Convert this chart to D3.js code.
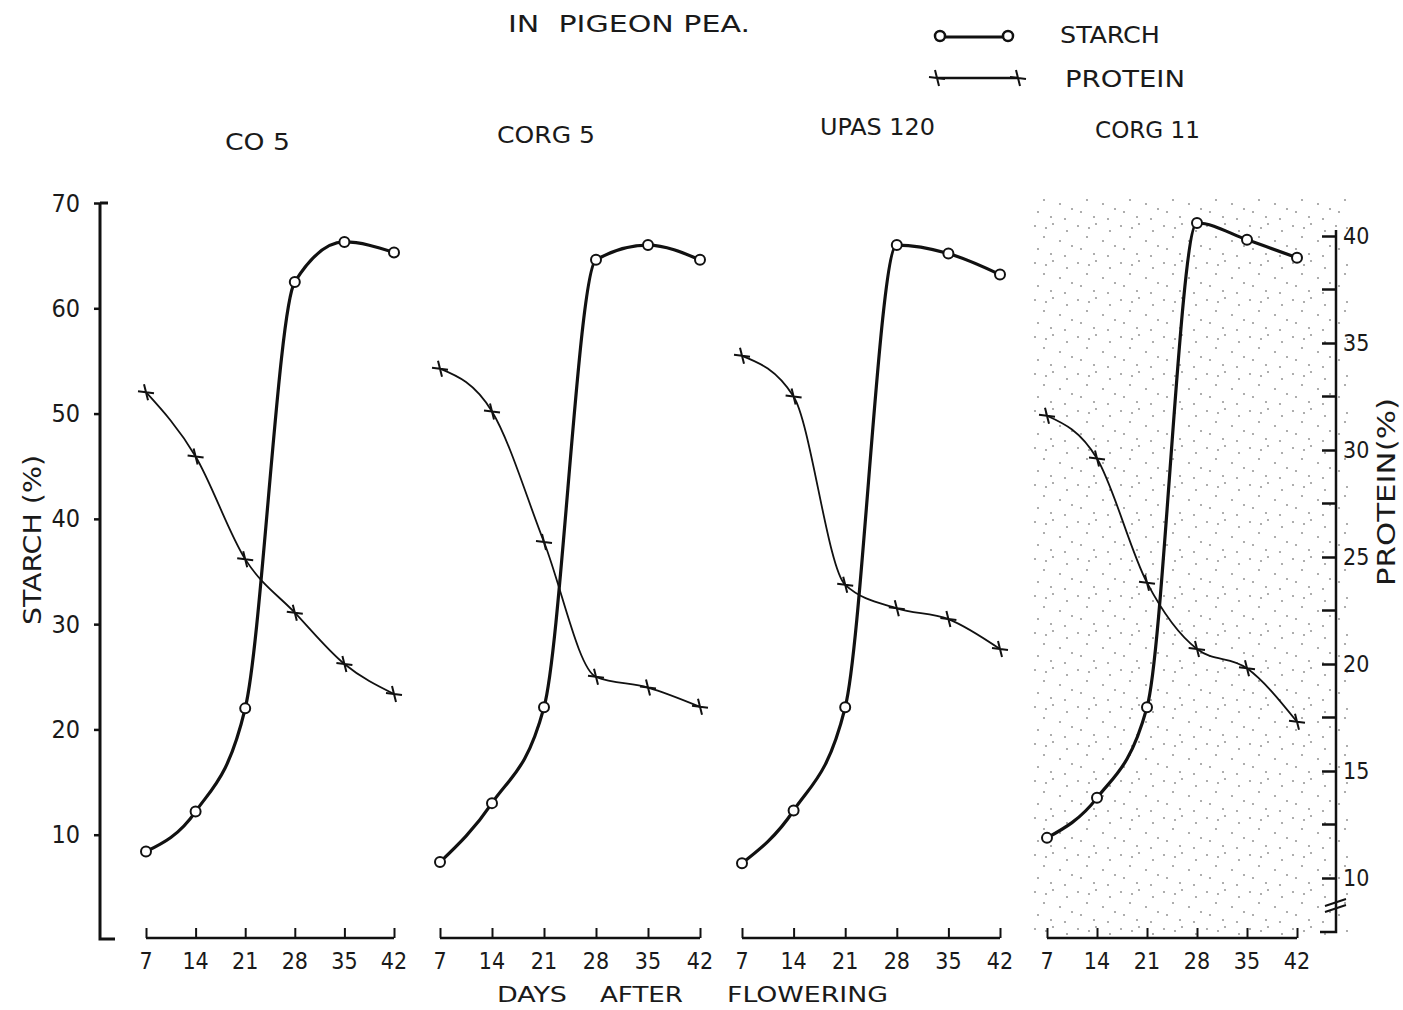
<!DOCTYPE html>
<html>
<head>
<meta charset="utf-8">
<script src="https://cdn.jsdelivr.net/npm/d3@7"></script>
<style>
  html, body { margin: 0; padding: 0; background: #fff; }
  svg text { font-family: "DejaVu Sans", sans-serif; font-stretch: condensed; fill: #1a1a1a; white-space: pre; }
</style>
</head>
<body>
<div id="chart"></div>
<script>
// data
const days = [7, 14, 21, 28, 35, 42];
const varieties = ["CO 5", "CORG 5", "UPAS 120", "CORG 11"];

const starchCO5 = [8.4, 12.2, 22.0, 62.5, 66.3, 65.3];
const starchCORG5 = [7.4, 13.0, 22.1, 64.6, 66.0, 64.6];
const starchUPAS120 = [7.3, 12.3, 22.1, 66.0, 65.2, 63.2];
const starchCORG11 = [9.7, 13.5, 22.1, 68.1, 66.5, 64.8];

const proteinCO5 = [32.7, 29.7, 24.9, 22.4, 20.0, 18.6];
const proteinCORG5 = [33.8, 31.8, 25.7, 19.4, 18.9, 18.0];
const proteinUPAS120 = [34.4, 32.5, 23.7, 22.6, 22.1, 20.7];
const proteinCORG11 = [31.6, 29.6, 23.8, 20.7, 19.8, 17.3];

const starchTicks = [10, 20, 30, 40, 50, 60, 70];
const proteinTicks = [10, 15, 20, 25, 30, 35, 40];
const proteinMinorTicks = [12.5, 17.5, 22.5, 27.5, 32.5, 37.5];

const starchSeries = [starchCO5, starchCORG5, starchUPAS120, starchCORG11];
const proteinSeries = [proteinCO5, proteinCORG5, proteinUPAS120, proteinCORG11];

// layout
const width = 1403, height = 1010;
const panelRanges = [[146, 394], [440, 700], [742, 1000], [1047, 1297]];
const titlePos = [[225, 150, 65], [497, 143, 98], [820, 135, 115], [1095, 138, 105]];
const baseY = 938;

const svg = d3.select("#chart")
  .append("svg")
  .attr("width", width)
  .attr("height", height);

// stipple in the last panel
const defs = svg.append("defs");
const pat = defs.append("pattern")
  .attr("id", "stipple")
  .attr("patternUnits", "userSpaceOnUse")
  .attr("width", 43)
  .attr("height", 37);
[[3, 4], [21, 2], [35, 9], [12, 15], [28, 19], [6, 27], [40, 24], [19, 32], [33, 34], [14, 6]].forEach(p => {
  pat.append("circle").attr("cx", p[0]).attr("cy", p[1]).attr("r", 1.1).attr("fill", "#9a9a9a");
});
svg.append("rect")
  .attr("x", 1030).attr("y", 195)
  .attr("width", 318).attr("height", 742)
  .attr("fill", "url(#stipple)");

// scales
const yStarch = d3.scaleLinear().domain([0, 70]).range([940, 203]);
const yProtein = d3.scaleLinear().domain([10, 40]).range([878, 236]);

// left axis (starch)
svg.append("path")
  .attr("d", `M100,${yStarch(70)} L100,${baseY + 1} L115,${baseY + 1}`)
  .attr("fill", "none").attr("stroke", "#111").attr("stroke-width", 3);
svg.append("line")
  .attr("x1", 100).attr("x2", 108)
  .attr("y1", yStarch(70)).attr("y2", yStarch(70))
  .attr("stroke", "#111").attr("stroke-width", 3);

const leftAxis = svg.append("g")
  .attr("transform", "translate(100,0)")
  .call(d3.axisLeft(yStarch).tickValues(starchTicks).tickSize(6).tickPadding(14));
leftAxis.select(".domain").remove();
leftAxis.selectAll("line").attr("stroke", "#111").attr("stroke-width", 2.5);
leftAxis.selectAll("text")
  .style("font-size", "25px")
  .style("font-family", "\"DejaVu Sans\", sans-serif")
  .attr("fill", "#1a1a1a");

svg.append("text")
  .attr("transform", "translate(41,540) rotate(-90)")
  .attr("text-anchor", "middle")
  .attr("font-size", "25px")
  .attr("textLength", 170)
  .attr("lengthAdjust", "spacingAndGlyphs")
  .text("STARCH (%)");

// right axis (protein)
const rx = 1336;
svg.append("path")
  .attr("d", `M${rx},${yProtein(40) - 6} L${rx},${baseY - 6} L${rx - 16},${baseY - 6}`)
  .attr("fill", "none").attr("stroke", "#111").attr("stroke-width", 2.5);

const rightAxis = svg.append("g")
  .attr("transform", `translate(${rx},0)`)
  .call(d3.axisRight(yProtein).tickValues(proteinTicks).tickSize(-14).tickPadding(7));
rightAxis.select(".domain").remove();
rightAxis.selectAll("line").attr("stroke", "#111").attr("stroke-width", 2.5);
rightAxis.selectAll("text")
  .style("font-size", "23px")
  .style("font-family", "\"DejaVu Sans\", sans-serif")
  .attr("fill", "#1a1a1a");

svg.append("g")
  .selectAll("line")
  .data(proteinMinorTicks)
  .join("line")
  .attr("x1", rx - 14).attr("x2", rx)
  .attr("y1", d => yProtein(d)).attr("y2", d => yProtein(d))
  .attr("stroke", "#111").attr("stroke-width", 2.5);

// axis break mark
svg.append("path")
  .attr("d", `M${rx - 11},${906} L${rx + 10},${899} M${rx - 11},${912} L${rx + 10},${905}`)
  .attr("fill", "none").attr("stroke", "#111").attr("stroke-width", 2);

svg.append("text")
  .attr("transform", "translate(1395,492) rotate(-90)")
  .attr("text-anchor", "middle")
  .attr("font-size", "24px")
  .attr("textLength", 188)
  .attr("lengthAdjust", "spacingAndGlyphs")
  .text("PROTEIN(%)");

// markers
const crossPath = "M-8,-1L8,1M-2,-8L2,8";

const starchLine = d3.line().curve(d3.curveMonotoneX);
const proteinLine = d3.line().curve(d3.curveMonotoneX);

varieties.forEach((name, i) => {
  const x = d3.scaleLinear().domain([7, 42]).range(panelRanges[i]);
  const g = svg.append("g");

  // x axis per panel
  const xa = g.append("g")
    .attr("transform", `translate(0,${baseY})`)
    .call(d3.axisTop(x).tickValues(days).tickSize(10).tickFormat(""));
  xa.select(".domain").attr("d", `M${x(7)},0H${x(42)}`).attr("stroke", "#111").attr("stroke-width", 2.5);
  xa.selectAll("line").attr("stroke", "#111").attr("stroke-width", 2);

  g.selectAll(".xlab")
    .data(days)
    .join("text")
    .attr("class", "xlab")
    .attr("x", d => x(d))
    .attr("y", 969)
    .attr("text-anchor", "middle")
    .attr("font-size", "23px")
    .text(d => d);

  // panel title
  g.append("text")
    .attr("x", titlePos[i][0])
    .attr("y", titlePos[i][1])
    .attr("font-size", "23px")
    .attr("textLength", titlePos[i][2])
    .attr("lengthAdjust", "spacingAndGlyphs")
    .text(name);

  const sPts = days.map((d, k) => [x(d), yStarch(starchSeries[i][k])]);
  const pPts = days.map((d, k) => [x(d), yProtein(proteinSeries[i][k])]);

  g.append("path")
    .attr("d", proteinLine(pPts))
    .attr("fill", "none").attr("stroke", "#111").attr("stroke-width", 1.8);
  g.append("path")
    .attr("d", starchLine(sPts))
    .attr("fill", "none").attr("stroke", "#111").attr("stroke-width", 3.2);

  g.selectAll(".pm")
    .data(pPts)
    .join("path")
    .attr("class", "pm")
    .attr("transform", d => `translate(${d[0]},${d[1]})`)
    .attr("d", crossPath)
    .attr("fill", "none").attr("stroke", "#111").attr("stroke-width", 2);

  g.selectAll(".sm")
    .data(sPts)
    .join("circle")
    .attr("class", "sm")
    .attr("cx", d => d[0]).attr("cy", d => d[1])
    .attr("r", 5)
    .attr("fill", "#fff").attr("stroke", "#111").attr("stroke-width", 2);
});

// x axis label
[["DAYS", 497, 70], ["AFTER", 600, 83], ["FLOWERING", 727, 161]].forEach(w => {
  svg.append("text")
    .attr("x", w[1]).attr("y", 1002)
    .attr("font-size", "22px")
    .attr("textLength", w[2])
    .attr("lengthAdjust", "spacingAndGlyphs")
    .text(w[0]);
});

// title fragment
svg.append("text")
  .attr("x", 508).attr("y", 32)
  .attr("font-size", "23px")
  .attr("textLength", 242)
  .attr("lengthAdjust", "spacingAndGlyphs")
  .text("IN  PIGEON PEA.");

// legend
svg.append("line")
  .attr("x1", 940).attr("x2", 1008).attr("y1", 37).attr("y2", 37)
  .attr("stroke", "#111").attr("stroke-width", 3);
svg.selectAll(".lgs")
  .data([940, 1008])
  .join("circle")
  .attr("class", "lgs")
  .attr("cx", d => d).attr("cy", 36).attr("r", 5)
  .attr("fill", "#fff").attr("stroke", "#111").attr("stroke-width", 2.5);
svg.append("text")
  .attr("x", 1060).attr("y", 43)
  .attr("font-size", "23px")
  .attr("textLength", 100)
  .attr("lengthAdjust", "spacingAndGlyphs")
  .text("STARCH");

svg.append("line")
  .attr("x1", 937).attr("x2", 1018).attr("y1", 78).attr("y2", 78)
  .attr("stroke", "#111").attr("stroke-width", 2.5);
svg.selectAll(".lgp")
  .data([937, 1018])
  .join("path")
  .attr("class", "lgp")
  .attr("transform", d => `translate(${d},78)`)
  .attr("d", crossPath)
  .attr("fill", "none").attr("stroke", "#111").attr("stroke-width", 2);
svg.append("text")
  .attr("x", 1065).attr("y", 87)
  .attr("font-size", "23px")
  .attr("textLength", 120)
  .attr("lengthAdjust", "spacingAndGlyphs")
  .text("PROTEIN");
</script>
</body>
</html>
